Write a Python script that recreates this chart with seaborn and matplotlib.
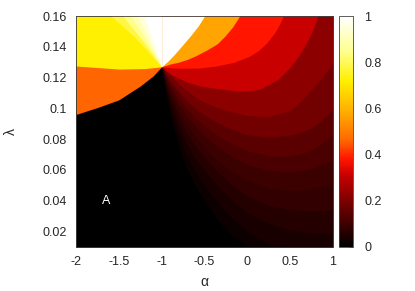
import matplotlib
matplotlib.use('Agg')
import matplotlib.pyplot as plt
from matplotlib.colors import LinearSegmentedColormap, Normalize
from matplotlib.cm import ScalarMappable
import seaborn as sns

# colour bar anchors (value, colour)
cbar_values = [0.0, 0.095, 0.145, 0.22, 0.31, 0.38, 0.46, 0.57, 0.72, 0.85, 1.0]
cbar_colors = ['#000000', '#3c0000', '#5a0000', '#8c0000', '#c80000', '#ff1500',
               '#ff6600', '#ffa500', '#fff000', '#ffff90', '#ffffff']

# level boundaries lambda(alpha), left of alpha = -1
left_black_top = ([-2, -1.75, -1.5, -1.25, -1.1, -1], [0.096, 0.1005, 0.1055, 0.1145, 0.121, 0.127])
left_orange_top = ([-2, -1.5, -1.2, -1], [0.1275, 0.1255, 0.1258, 0.127])
left_fan_1 = ([-2, -1.59, -1.3, -1], [0.16, 0.16, 0.1455, 0.127])
left_fan_2 = ([-2, -1.455, -1.23, -1], [0.16, 0.16, 0.1445, 0.127])
left_fan_3 = ([-2, -1.358, -1.18, -1], [0.16, 0.16, 0.1442, 0.127])
left_fan_4 = ([-2, -1.28, -1.14, -1], [0.16, 0.16, 0.1440, 0.127])
left_fan_5 = ([-2, -1.203, -1.1, -1], [0.16, 0.16, 0.1438, 0.127])
left_levels = [0.46, 0.72, 0.78, 0.84, 0.90, 0.95, 1.0]

# right of alpha = -1
alpha_r = [-1, -0.95, -0.9, -0.8, -0.7, -0.6, -0.5, -0.35, -0.2, 0, 0.25, 0.5, 0.625, 0.75, 0.875, 1]
right_g1 = [0.127, 0.109, 0.095, 0.075, 0.060, 0.049, 0.040, 0.028, 0.018, 0.010,
            0.01, 0.01, 0.01, 0.01, 0.01, 0.01]
right_g2 = [0.127, 0.112, 0.100, 0.082, 0.0685, 0.0585, 0.050, 0.039, 0.030, 0.020,
            0.012, 0.01, 0.01, 0.01, 0.01, 0.01]
right_g3 = [0.127, 0.1145, 0.104, 0.0885, 0.0765, 0.067, 0.0595, 0.050, 0.0415, 0.032,
            0.025, 0.021, 0.020, 0.019, 0.019, 0.019]
right_g4 = [0.127, 0.1165, 0.1075, 0.094, 0.0835, 0.075, 0.068, 0.059, 0.051, 0.043,
            0.037, 0.034, 0.0335, 0.033, 0.0335, 0.034]
right_g5 = [0.127, 0.118, 0.110, 0.098, 0.089, 0.081, 0.0745, 0.066, 0.0595, 0.053,
            0.048, 0.0465, 0.0465, 0.0475, 0.049, 0.051]
right_b1 = [0.127, 0.1195, 0.113, 0.1025, 0.0945, 0.088, 0.082, 0.075, 0.0695, 0.0635,
            0.0595, 0.059, 0.0595, 0.061, 0.0635, 0.0664]
right_b2 = [0.127, 0.121, 0.1155, 0.1065, 0.0995, 0.0935, 0.0885, 0.0825, 0.0775, 0.0725,
            0.069, 0.069, 0.0705, 0.073, 0.0775, 0.0837]
right_b3 = [0.127, 0.1225, 0.118, 0.1105, 0.1045, 0.0995, 0.0955, 0.0905, 0.0868, 0.0828,
            0.0812, 0.0825, 0.0845, 0.0875, 0.0925, 0.0995]
right_b4 = [0.127, 0.1245, 0.1216, 0.1158, 0.1112, 0.107, 0.1038, 0.1005, 0.0979, 0.0953,
            0.0947, 0.0986, 0.1045, 0.1123, 0.120, 0.1296]
right_b5 = ([-1, -0.95, -0.9, -0.8, -0.7, -0.55, -0.35, -0.15, 0, 0.15, 0.36, 0.48, 0.6, 0.68, 0.75, 0.79, 0.82, 1],
            [0.127, 0.1245, 0.1225, 0.1195, 0.117, 0.1145, 0.1128, 0.1115, 0.1112, 0.1125,
             0.1188, 0.1255, 0.134, 0.1415, 0.1492, 0.1545, 0.16, 0.16])
right_b6 = ([-1, -0.9, -0.75, -0.55, -0.36, -0.15, 0.03, 0.13, 0.23, 0.33, 0.38, 0.42, 1],
            [0.127, 0.1263, 0.126, 0.1262, 0.1275, 0.130, 0.134, 0.1375, 0.1427, 0.150, 0.155, 0.16, 0.16])
right_b7 = ([-1, -0.9, -0.8, -0.7, -0.6, -0.46, -0.35, -0.26, -0.17, -0.09, 1],
            [0.127, 0.1288, 0.130, 0.1318, 0.1342, 0.1383, 0.142, 0.147, 0.153, 0.16, 0.16])
right_b8 = ([-1, -0.92, -0.85, -0.75, -0.65, -0.57, -0.5, 1],
            [0.127, 0.131, 0.1351, 0.1415, 0.1481, 0.1538, 0.16, 0.16])
right_levels = [0.02, 0.04, 0.06, 0.08, 0.095, 0.12, 0.145, 0.18, 0.22, 0.31, 0.38, 0.57, 1.0]

cbar_ticks = [0, 0.2, 0.4, 0.6, 0.8, 1]
x_ticks = [-2, -1.5, -1, -0.5, 0, 0.5, 1]
y_ticks = [0.02, 0.04, 0.06, 0.08, 0.1, 0.12, 0.14, 0.16]

sns.set_style('white')
plt.rcParams['font.family'] = ['Liberation Sans', 'DejaVu Sans']

cmap = LinearSegmentedColormap.from_list('gp_hot', list(zip(cbar_values, cbar_colors)))
norm = Normalize(0, 1)

fig = plt.figure(figsize=(4.15, 2.91), dpi=100)
ax = fig.add_axes([0.1831, 0.1522, 0.6193, 0.7928])
cax = fig.add_axes([0.8169, 0.1522, 0.0337, 0.7928])

LAM_LO, LAM_HI = 0.01, 0.16
ax.fill_between([-2, 1], 0, LAM_HI, color=cmap(norm(0)), lw=0, antialiased=False)

# each level is painted over the region above its boundary, lowest level first
left_curves = [left_black_top, left_orange_top, left_fan_1, left_fan_2,
               left_fan_3, left_fan_4, left_fan_5]
for (a, lam), v in zip(left_curves, left_levels):
    ax.fill_between(a, lam, LAM_HI, color=cmap(norm(v)), lw=0, antialiased=False)

right_curves = [(alpha_r, c) for c in [right_g1, right_g2, right_g3, right_g4, right_g5,
                                       right_b1, right_b2, right_b3, right_b4]]
right_curves += [right_b5, right_b6, right_b7, right_b8]
for (a, lam), v in zip(right_curves, right_levels):
    ax.fill_between(a, lam, LAM_HI, color=cmap(norm(v)), lw=0, antialiased=False)

ax.text(-1.65, 0.0397, 'A', color='white', fontsize=9, ha='center', va='center')

ax.set_xlim(-2, 1)
ax.set_ylim(LAM_LO, LAM_HI)
ax.set_xticks(x_ticks)
ax.set_xticklabels([f'{t:g}' for t in x_ticks])
ax.set_yticks(y_ticks)
ax.set_yticklabels([f'{t:g}' for t in y_ticks])
ax.tick_params(direction='in', length=4, width=0.5, labelsize=9, pad=6.5,
               top=True, right=True)
for s in ax.spines.values():
    s.set_linewidth(0.6)
    s.set_color('#444444')
ax.set_xlabel('α', fontsize=10, va='center')
ax.set_ylabel('λ', fontsize=10, va='center')
ax.xaxis.set_label_coords(0.5, -0.153)
ax.yaxis.set_label_coords(-0.253, 0.5)

cb = fig.colorbar(ScalarMappable(norm=norm, cmap=cmap), cax=cax, ticks=cbar_ticks)
cb.ax.set_yticklabels([f'{t:g}' for t in cbar_ticks])
cb.ax.tick_params(direction='in', length=3, width=0.5, labelsize=9, pad=8)
cb.outline.set_linewidth(0.6)
cb.outline.set_edgecolor('#444444')

fig.savefig('out.png', dpi=100)
